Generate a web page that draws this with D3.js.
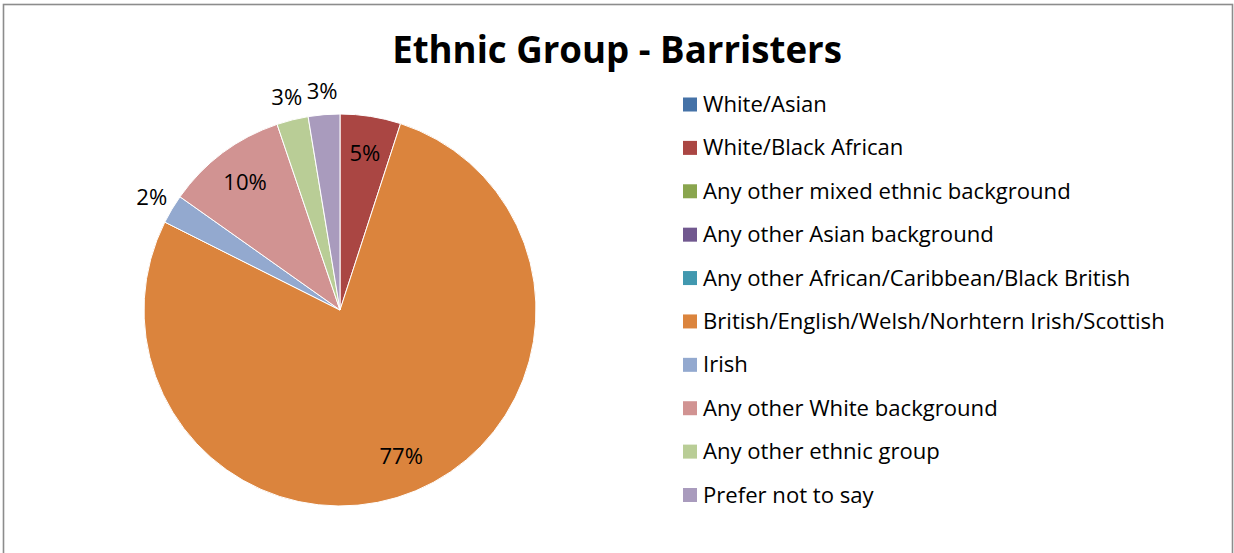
<!DOCTYPE html>
<html><head><meta charset="utf-8">
<script src="https://cdn.jsdelivr.net/npm/d3@7"></script>
<style>body{margin:0;background:#fff}svg{display:block}</style>
</head><body>
<svg id="c" width="1234" height="553"></svg>
<script>
const title = "Ethnic Group - Barristers";
const categories = ["White/Asian","White/Black African","Any other mixed ethnic background","Any other Asian background","Any other African/Caribbean/Black British","British/English/Welsh/Norhtern Irish/Scottish","Irish","Any other White background","Any other ethnic group","Prefer not to say"];
const values = [0, 5.0, 0, 0, 0, 77.4, 2.4, 10.0, 2.6, 2.6];
const colors = ["#4572A7","#AA4643","#89A54E","#71588F","#4198AF","#DB843D","#93A9CF","#D19392","#B9CD96","#A99BBD"];

const svg = d3.select("#c");
const font = "'Open Sans', 'Noto Sans', sans-serif";
const W = 1234, H = 553;

svg.append("rect").attr("x",3.5).attr("y",4.5).attr("width",1229).attr("height",560)
  .attr("fill","#fff").attr("stroke","#8c8c8c").attr("stroke-width",1.6);

// title
const t = svg.append("text").attr("x",617).attr("y",63).attr("text-anchor","middle")
  .attr("font-family",font).attr("font-weight","bold").attr("font-size",36).attr("fill","#000").text(title);
let tw = t.node().getComputedTextLength();
t.attr("font-size", 36*450/tw);

// legend font size fit
const probe = svg.append("text").attr("font-family",font).attr("font-size",20).text(categories[5]);
const lfs = 20*462/probe.node().getComputedTextLength();
probe.remove();

const cx = 340, cy = 310, R = 196;
const total = d3.sum(values);
const pie = d3.pie().sort(null).value(d=>d.v);
const arcs = pie(categories.map((c,i)=>({c, v:values[i], col:colors[i]})));
const arc = d3.arc().innerRadius(0).outerRadius(R);
const g = svg.append("g").attr("transform",`translate(${cx},${cy})`);
g.selectAll("path").data(arcs.filter(a=>a.data.v>0)).join("path")
  .attr("d",arc).attr("fill",d=>d.data.col).attr("stroke","#fff").attr("stroke-width",1);

const inArc = d3.arc().innerRadius(R*0.81).outerRadius(R*0.81);
const outArc = d3.arc().innerRadius(R*1.12).outerRadius(R*1.12);
g.selectAll("text.lbl").data(arcs.filter(a=>a.data.v>0)).join("text")
  .attr("class","lbl")
  .attr("transform",d=>{const p=(d.data.v/total*100<4?outArc:inArc).centroid(d);return `translate(${p[0]},${p[1]})`;})
  .attr("text-anchor","middle").attr("dy","0.35em")
  .attr("font-family",font).attr("font-size",lfs).attr("fill","#000")
  .text(d=>Math.round(d.data.v/total*100)+"%");

// legend
const ly = d3.scalePoint().domain(categories).range([104.5,495]);
const lg = svg.append("g");
categories.forEach((c,i)=>{
  lg.append("rect").attr("x",683).attr("y",ly(c)-7).attr("width",14).attr("height",14).attr("fill",colors[i]);
  lg.append("text").attr("x",703).attr("y",ly(c)+7.5).attr("font-family",font).attr("font-size",lfs).attr("fill","#000").text(c);
});
</script>
</body></html>
